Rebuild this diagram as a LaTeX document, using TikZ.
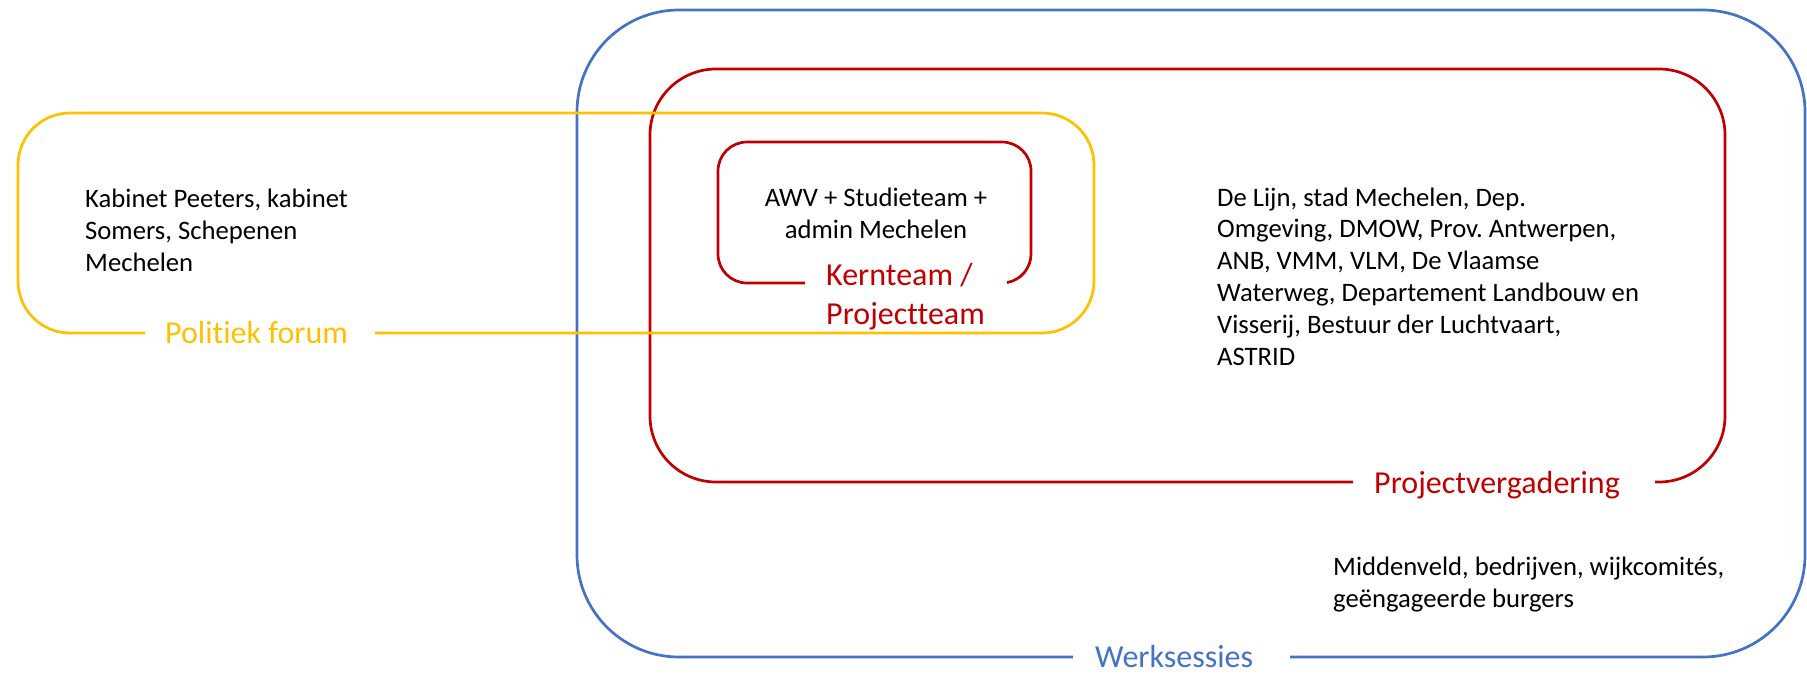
\documentclass[tikz,border=0pt]{standalone}
\usepackage{fontspec}
\setmainfont{Carlito}[Ligatures=NoCommon]
\frenchspacing
\definecolor{wsblue}{HTML}{4472C4}
\definecolor{pvred}{HTML}{C00000}
\definecolor{pfyel}{HTML}{FFC000}
\begin{document}
\begin{tikzpicture}[x=1pt,y=-1pt,
  frame/.style={line width=2.7pt},
  lbl/.style={font=\fontsize{32}{39}\selectfont, inner sep=0pt, align=left, anchor=base west},
  body/.style={font=\fontsize{26.67}{31.8}\selectfont, inner sep=0pt, text=black}]
\useasboundingbox (0,0) rectangle (1807,678);
% labels
\node[lbl, text=wsblue] (ws) at (1095,667) {Werksessies};
\node[lbl, text=pvred] (pv) at (1374,493) {Projectvergadering};
\node[lbl, text=pvred] (kt) at (826,324) {Kernteam /\\Projectteam};
\node[lbl, text=pfyel] (pf) at (165,343) {Politiek forum};
% gap ends of the frames
\coordinate (wsL) at (1073,657);
\coordinate (wsR) at (1290,657);
\coordinate (pvL) at (1353,482);
\coordinate (pvR) at (1655,482);
\coordinate (ktL) at (805,283);
\coordinate (ktR) at (1007.04,282.56);
\coordinate (pfL) at (145,333);
\coordinate (pfR) at (375,333);
% frames
\draw[frame, wsblue, rounded corners=102pt] (wsR) -- (1805,657) -- (1805,10) -- (577,10) -- (577,657) -- (wsL);
\draw[frame, pvred, rounded corners=66pt] (pvR) -- (1725,482) -- (1725,69) -- (650,69) -- (650,482) -- (pvL);
\draw[frame, pvred] (ktR) arc[start angle=80, end angle=0, radius=29] -- (1031,171)
  arc[start angle=0, end angle=-90, radius=29] -- (747,142)
  arc[start angle=-90, end angle=-180, radius=29] -- (718,254)
  arc[start angle=180, end angle=90, radius=29] -- (ktL);
\draw[frame, pfyel, rounded corners=52pt] (pfR) -- (1094,333) -- (1094,113) -- (18,113) -- (18,333) -- (pfL);
% texts
\node[body, anchor=base west, align=left] (kab) at (85,271) {Kabinet Peeters, kabinet\\Somers, Schepenen\\Mechelen};
\node[body, anchor=base, align=center] (awv) at (876,238) {AWV + Studieteam +\\admin Mechelen};
\node[body, anchor=base west, align=left] (lijn) at (1217,365) {De Lijn, stad Mechelen, Dep.\\Omgeving, DMOW, Prov. Antwerpen,\\ANB, VMM, VLM, De Vlaamse\\Waterweg, Departement Landbouw en\\Visserij, Bestuur der Luchtvaart,\\ASTRID};
\node[body, anchor=base west, align=left] (mid) at (1333,607) {Middenveld, bedrijven, wijkcomités,\\geëngageerde burgers};
\end{tikzpicture}
\end{document}
